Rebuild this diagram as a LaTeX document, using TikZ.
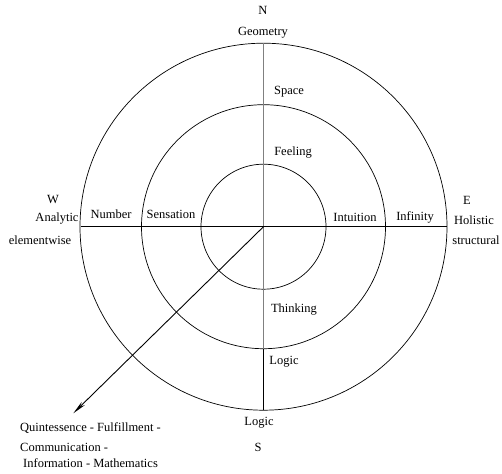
\documentclass[tikz,border=0pt]{standalone}
\usepackage{fontspec}
\setmainfont{Liberation Serif}
\usepackage{tikz}
\usetikzlibrary{arrows.meta}
\tikzset{lbl/.style={font=\fontsize{12.5}{14}\selectfont,inner sep=0pt},
axis/.style={line width=0.7pt},
ring/.style={line width=0.7pt}}
\newcommand{\ringcircle}[1]{
\draw[ring] (0,0) circle [radius=#1];
}

\begin{document}
\begin{tikzpicture}[x=1pt,y=1pt]
\useasboundingbox (-263.5,-246.3) rectangle (238.5,226.7);
\coordinate (c) at (0,0);
\coordinate (top) at (0,183.5);
\coordinate (bot) at (0,-183.5);
\coordinate (mbot) at (0,-122);
\coordinate (left) at (-182.5,0);
\coordinate (right) at (183,0);
\coordinate (tip) at (-190.2,-186.6);
\ringcircle{183.5};
\ringcircle{122};
\ringcircle{62.5};
\draw[axis,gray] (top) -- (bot);
\draw[axis] (mbot) -- (bot);
\draw[axis] (left) -- (right);
\draw[line width=0.9pt,-{Stealth[length=14pt,width=4.5pt]}] (c) -- (tip);
\node[lbl] (n) at (-0.5,216.7) {N};
\node[lbl] (geometry) at (-0.5,193.7) {Geometry};
\node[lbl] (space) at (25.5,134.7) {Space};
\node[lbl] (feeling) at (29.5,73.7) {Feeling};
\node[lbl] (w) at (-210.5,26.7) {W};
\node[lbl] (analytic) at (-206.5,7.7) {Analytic};
\node[lbl] (elementwise) at (-223.5,-13.3) {elementwise};
\node[lbl] (number) at (-152.5,12.7) {Number};
\node[lbl] (sensation) at (-92.5,12.7) {Sensation};
\node[lbl] (intuition) at (91.5,9.7) {Intuition};
\node[lbl] (infinity) at (151.5,9.7) {Infinity};
\node[lbl] (e) at (203.5,26.7) {E};
\node[lbl] (holistic) at (210.5,6.7) {Holistic};
\node[lbl] (structural) at (212.5,-13.3) {structural};
\node[lbl] (thinking) at (30.5,-83.3) {Thinking};
\node[lbl] (logicin) at (20.5,-135.3) {Logic};
\node[lbl] (logicout) at (-4.5,-196.3) {Logic};
\node[lbl] (s) at (-5.5,-220.3) {S};
\node[lbl,anchor=west] (quint) at (-243.5,-201.3) {Quintessence - Fulfillment -};
\node[lbl,anchor=west] (commun) at (-243.5,-220.3) {Communication -};
\node[lbl,anchor=west] (inform) at (-240.5,-236.3) {Information - Mathematics};
\end{tikzpicture}
\end{document}
